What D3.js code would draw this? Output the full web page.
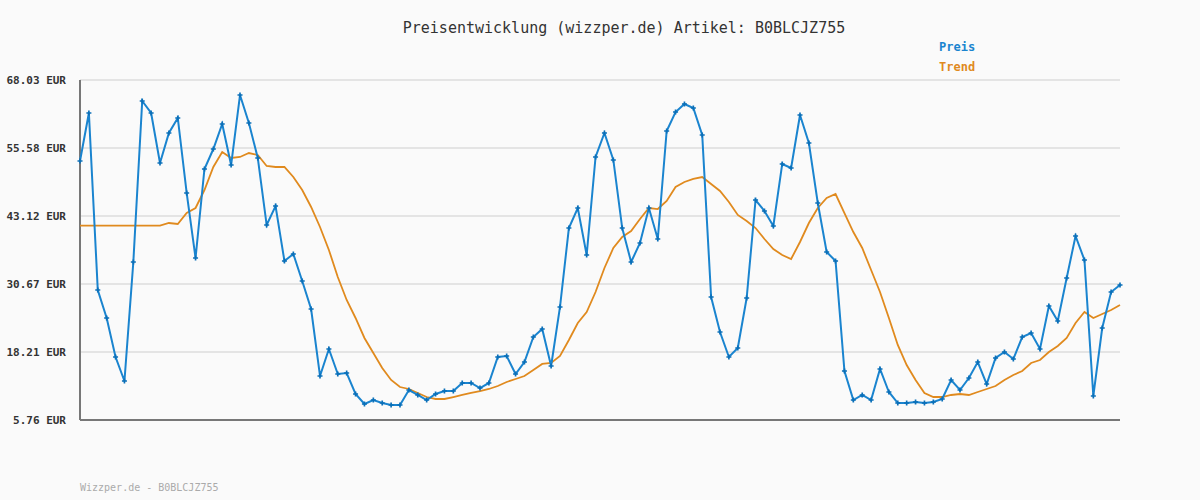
<!DOCTYPE html>
<html>
<head>
<meta charset="utf-8">
<script src="https://cdn.jsdelivr.net/npm/d3@7"></script>
<style>
  body { margin: 0; background: #fafafa; }
  text { font-family: "DejaVu Sans Mono", monospace; }
</style>
</head>
<body>
<script>
const yTicks = [5.76, 18.21, 30.67, 43.12, 55.58, 68.03];

const preis = [
  53.20, 61.99, 29.57, 24.44, 17.30, 12.90, 34.70, 64.18, 61.99, 52.83,
  58.32, 61.07, 47.34, 35.43, 51.73, 55.39, 59.97, 52.46, 65.28, 60.16,
  53.75, 41.47, 44.95, 34.88, 36.16, 31.22, 26.09, 13.82, 18.76, 14.18,
  14.37, 10.52, 8.69, 9.42, 8.87, 8.51, 8.51, 11.25, 10.34, 9.42,
  10.52, 11.07, 11.07, 12.54, 12.54, 11.62, 12.54, 17.30, 17.48, 14.18,
  16.38, 20.96, 22.43, 15.65, 26.46, 40.92, 44.59, 35.98, 53.93, 58.32,
  53.38, 40.92, 34.70, 38.18, 44.59, 38.91, 58.69, 62.17, 63.64, 62.90,
  57.96, 28.29, 21.88, 17.30, 18.95, 28.10, 46.05, 44.04, 41.29, 52.65,
  51.91, 61.62, 56.49, 45.50, 36.53, 34.88, 14.73, 9.42, 10.34, 9.42,
  15.10, 10.89, 8.87, 8.87, 9.06, 8.87, 9.06, 9.61, 13.09, 11.25,
  13.45, 16.38, 12.35, 17.12, 18.21, 16.93, 20.96, 21.69, 18.76, 26.64,
  23.89, 31.77, 39.46, 35.06, 10.16, 22.61, 29.20, 30.49
];

const trend = [
  41.35, 41.35, 41.35, 41.35, 41.35, 41.35, 41.35, 41.35, 41.35, 41.35,
  41.84, 41.66, 43.67, 44.59, 47.88, 52.10, 54.84, 53.75, 53.93, 54.66,
  54.29, 52.28, 52.10, 52.10, 50.26, 47.88, 44.77, 41.11, 36.90, 31.95,
  27.74, 24.44, 20.78, 18.03, 15.28, 13.09, 11.80, 11.44, 10.71, 9.97,
  9.61, 9.61, 9.97, 10.34, 10.71, 11.07, 11.44, 11.99, 12.72, 13.27,
  13.82, 14.92, 16.02, 16.20, 17.48, 20.41, 23.53, 25.54, 29.20, 33.60,
  37.26, 39.28, 40.38, 42.57, 44.59, 44.40, 45.87, 48.43, 49.35, 49.90,
  50.26, 48.98, 47.70, 45.69, 43.31, 42.21, 40.92, 38.91, 37.08, 35.98,
  35.25, 38.36, 41.84, 44.59, 46.42, 47.15, 43.67, 40.19, 37.26, 33.23,
  29.20, 24.44, 19.50, 15.83, 13.09, 10.71, 9.97, 9.97, 10.34, 10.52,
  10.34, 10.89, 11.44, 11.99, 13.09, 14.00, 14.73, 16.20, 16.75, 18.21,
  19.31, 20.78, 23.53, 25.54, 24.44, 25.17, 25.91, 26.82
];

const width = 1200, height = 500;
const marginTop = 80, marginRight = 80, marginBottom = 80, marginLeft = 80;

const svg = d3.select("body").append("svg")
  .attr("width", width)
  .attr("height", height)
  .style("background", "#fafafa");

const x = d3.scaleLinear()
  .domain([0, preis.length - 1])
  .range([marginLeft, width - marginRight]);

const y = d3.scaleLinear()
  .domain([yTicks[0], yTicks[yTicks.length - 1]])
  .range([height - marginBottom, marginTop]);

// grid lines
svg.append("g")
  .selectAll("line")
  .data(yTicks)
  .join("line")
  .attr("x1", marginLeft)
  .attr("x2", width - marginRight)
  .attr("y1", d => y(d))
  .attr("y2", d => y(d))
  .attr("stroke", "#e4e4e4")
  .attr("stroke-width", 2);

// y labels
svg.append("g")
  .selectAll("text")
  .data(yTicks)
  .join("text")
  .attr("x", 66)
  .attr("y", d => y(d) + 4)
  .attr("text-anchor", "end")
  .attr("font-size", 11)
  .attr("font-weight", "bold")
  .attr("fill", "#333")
  .text(d => d.toFixed(2) + " EUR");

// axes lines
svg.append("line")
  .attr("x1", marginLeft).attr("x2", marginLeft)
  .attr("y1", marginTop).attr("y2", height - marginBottom)
  .attr("stroke", "#777").attr("stroke-width", 2);
svg.append("line")
  .attr("x1", marginLeft).attr("x2", width - marginRight)
  .attr("y1", height - marginBottom).attr("y2", height - marginBottom)
  .attr("stroke", "#777").attr("stroke-width", 2);

const line = d3.line()
  .x((d, i) => x(i))
  .y(d => y(d));

svg.append("path")
  .datum(trend)
  .attr("fill", "none")
  .attr("stroke", "#e08a1e")
  .attr("stroke-width", 1.8)
  .attr("d", line);

svg.append("path")
  .datum(preis)
  .attr("fill", "none")
  .attr("stroke", "#1a84cf")
  .attr("stroke-width", 2)
  .attr("d", line);

// point markers
const cross = d3.symbol().type(d3.symbolCross).size(14);
svg.append("g")
  .selectAll("path")
  .data(preis)
  .join("path")
  .attr("transform", (d, i) => `translate(${x(i)},${y(d)})`)
  .attr("d", cross)
  .attr("fill", "#0a6fb8");

// title
svg.append("text")
  .attr("x", 624)
  .attr("y", 33)
  .attr("text-anchor", "middle")
  .attr("font-size", 15)
  .attr("fill", "#333")
  .text("Preisentwicklung (wizzper.de) Artikel: B0BLCJZ755");

// legend
svg.append("text")
  .attr("x", 939).attr("y", 51)
  .attr("font-size", 12).attr("font-weight", "bold")
  .attr("fill", "#1a84cf")
  .text("Preis");
svg.append("text")
  .attr("x", 939).attr("y", 71)
  .attr("font-size", 12).attr("font-weight", "bold")
  .attr("fill", "#e08a1e")
  .text("Trend");

// footer
svg.append("text")
  .attr("x", 80).attr("y", 491)
  .attr("font-size", 10)
  .attr("fill", "#aaa")
  .text("Wizzper.de - B0BLCJZ755");
</script>
</body>
</html>
